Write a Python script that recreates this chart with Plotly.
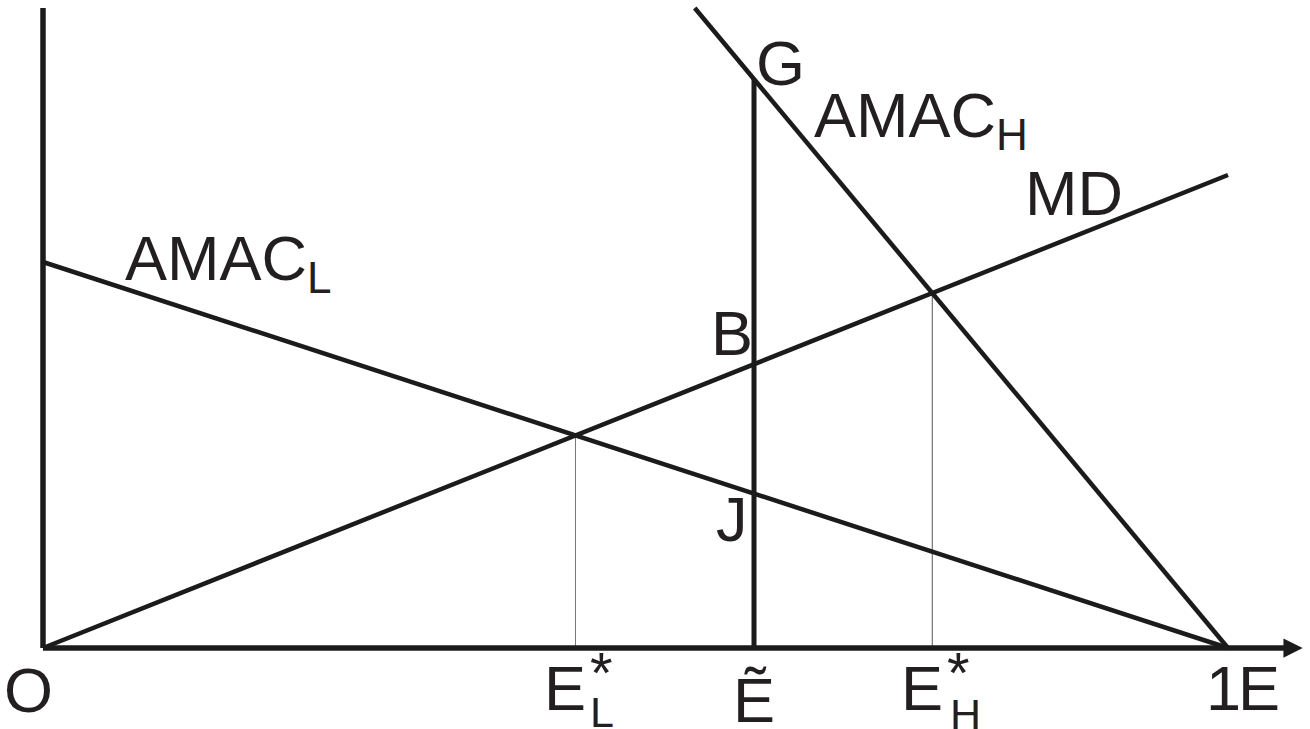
import plotly.graph_objects as go

# abatement levels E run from 0 to 1
e_ends = [0.0, 1.0]
md_vals = [0.0, 0.473]          # marginal damage, rising
amac_l_vals = [0.386, 0.0]      # low-cost abatement curve
amac_h_x = [0.55, 1.0]
amac_h_vals = [0.64, 0.0]       # high-cost abatement curve
e_tilde = 0.6
y_axis_top = 0.64
x_axis_end = 1.063


def line_at(xs, ys, x):
    return ys[0] + (ys[1] - ys[0]) * (x - xs[0]) / (xs[1] - xs[0])


def cross(xa, ya, xb, yb):
    # intersection of two straight lines given by two points each
    ma = (ya[1] - ya[0]) / (xa[1] - xa[0])
    mb = (yb[1] - yb[0]) / (xb[1] - xb[0])
    ca = ya[0] - ma * xa[0]
    cb = yb[0] - mb * xb[0]
    x = (cb - ca) / (ma - mb)
    return x, ma * x + ca


el_x, el_y = cross(e_ends, md_vals, e_ends, amac_l_vals)
eh_x, eh_y = cross(e_ends, md_vals, amac_h_x, amac_h_vals)
g_y = line_at(amac_h_x, amac_h_vals, e_tilde)
b_y = line_at(e_ends, md_vals, e_tilde)
j_y = line_at(e_ends, amac_l_vals, e_tilde)

ink = '#1b1b1b'
txt = '#231f20'
font = 'Liberation Sans, Arial, sans-serif'

fig = go.Figure()


def seg(x, y, w, c=ink):
    fig.add_trace(go.Scatter(x=x, y=y, mode='lines', hoverinfo='skip',
                             line=dict(color=c, width=w), showlegend=False))


# thin drop lines
seg([el_x, el_x], [0, el_y], 1, '#777777')
seg([eh_x, eh_x], [0, eh_y], 1, '#555555')

# curves
seg(e_ends, md_vals, 4.5)
seg(e_ends, amac_l_vals, 4.5)
seg(amac_h_x, amac_h_vals, 4.5)
seg([e_tilde, e_tilde], [0, g_y], 5)

# axes
seg([0, 0], [0, y_axis_top], 5.5)
seg([0, x_axis_end - 0.005], [0, 0], 5.5)

fig.add_annotation(x=x_axis_end, y=0, ax=x_axis_end - 0.02, ay=0,
                   xref='x', yref='y', axref='x', ayref='y', text='',
                   showarrow=True, arrowhead=2, arrowsize=1.1, arrowwidth=3.5,
                   arrowcolor=ink)


def label(text, x, y, dx, dy, size=63, anchor='center'):
    fig.add_annotation(x=x, y=y, xref='x', yref='y', text=text, showarrow=False,
                       xanchor=anchor, yanchor='middle', xshift=dx, yshift=dy,
                       font=dict(family=font, size=size, color=txt))


label('O', 0, 0, -15, -42)
label('E', el_x, 0, -10, -40)
label('*', el_x, 0, 26, -24, 58)
label('L', el_x, 0, 27, -64, 43)
label('Ẽ', e_tilde, 0, 0, -52)
label('E', eh_x, 0, -10, -40)
label('*', eh_x, 0, 26, -24, 58)
label('H', eh_x, 0, 33, -66, 43)
label('1', 1.0, 0, -5, -40)
label('E', 1.0, 0, 31, -40)
label('G', e_tilde, g_y, 26, 16)
label('AMAC<sub>H</sub>', e_tilde, g_y, 58, -40, anchor='left')
label('MD', 1.0, md_vals[1], -154, -18)
label('AMAC<sub>L</sub>', 0, amac_l_vals[0], 80, 0, anchor='left')
label('B', e_tilde, b_y, -22, 31)
label('J', e_tilde, j_y, -22, -25)

fig.update_layout(
    width=1310, height=729,
    margin=dict(l=0, r=0, t=0, b=0),
    paper_bgcolor='white', plot_bgcolor='white',
    xaxis=dict(range=[-43 / 1185, 1267 / 1185], visible=False, fixedrange=True),
    yaxis=dict(range=[-0.081, 0.648], visible=False, fixedrange=True),
)

fig.write_html('out.html', config={'displayModeBar': False},
               post_script="document.body.style.margin='0';")
